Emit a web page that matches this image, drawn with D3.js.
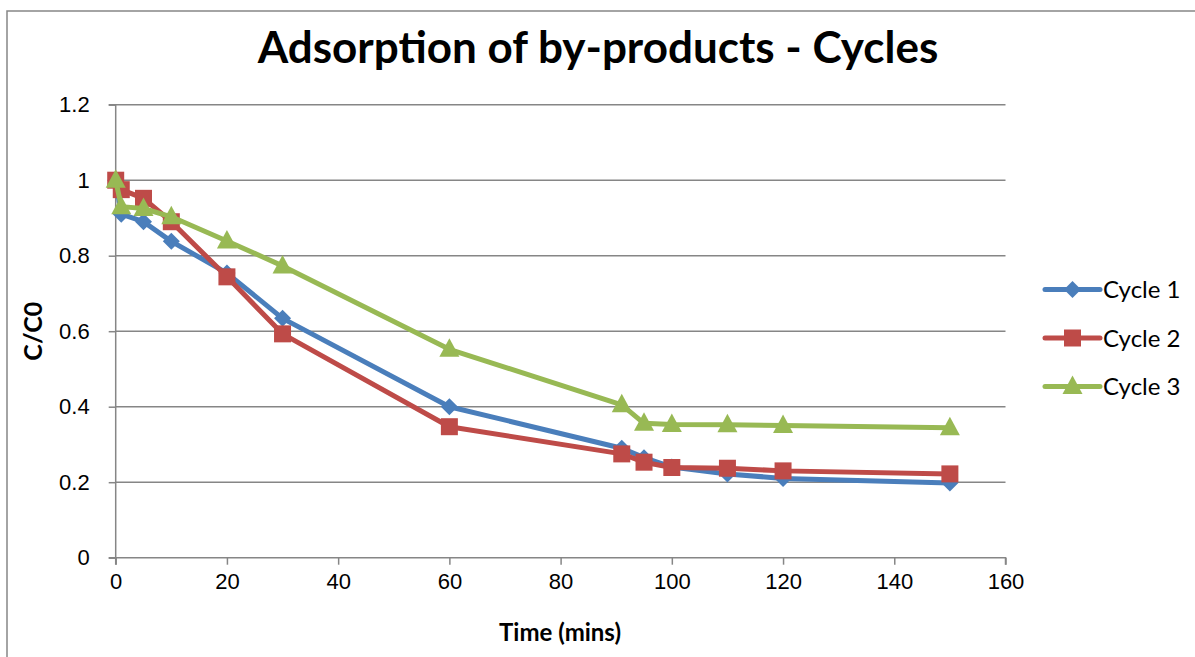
<!DOCTYPE html>
<html>
<head>
<meta charset="utf-8">
<script src="https://cdn.jsdelivr.net/npm/d3@7"></script>
<style>
  html, body { margin: 0; padding: 0; background: #fff; }
  svg { display: block; font-family: Lato, "Open Sans", sans-serif; }
</style>
</head>
<body>
<svg id="chart" width="1195" height="657"></svg>
<script>
// Sampling times (minutes) and C/C0 readings for each adsorption cycle
const times = [0, 1, 5, 10, 20, 30, 60, 91, 95, 100, 110, 120, 150];
const cycle1 = [1.0, 0.91, 0.89, 0.838, 0.754, 0.634, 0.40, 0.29, 0.265, 0.24, 0.222, 0.21, 0.198];
const cycle2 = [1.0, 0.975, 0.952, 0.89, 0.744, 0.593, 0.347, 0.275, 0.253, 0.239, 0.237, 0.230, 0.222];
const cycle3 = [1.0, 0.93, 0.925, 0.903, 0.839, 0.773, 0.552, 0.405, 0.356, 0.353, 0.352, 0.350, 0.344];
const seriesNames = ["Cycle 1", "Cycle 2", "Cycle 3"];
const seriesColors = ["#4A7EBB", "#BE4B48", "#98B954"];
const xTicks = [0, 20, 40, 60, 80, 100, 120, 140, 160];
const yTicks = [0, 0.2, 0.4, 0.6, 0.8, 1, 1.2];

// Marker shapes: square-ish diamond, square, wide triangle
const markerPath = [
  "M0,-8.5L8.5,0L0,8.5L-8.5,0Z",
  "M-8.5,-8.5H8.5V8.5H-8.5Z",
  "M0,-11L10,7.5H-10Z"
];

const series = [cycle1, cycle2, cycle3].map((vals, i) => ({
  name: seriesNames[i],
  color: seriesColors[i],
  marker: markerPath[i],
  points: times.map((t, j) => ({ t, v: vals[j] }))
}));

const svg = d3.select("#chart");
const plot = { left: 115.7, right: 1005.5, top: 104.7, bottom: 557.7 };

const x = d3.scaleLinear().domain([0, 160]).range([plot.left, plot.right]);
const y = d3.scaleLinear().domain([0, 1.2]).range([plot.bottom, plot.top]);

// Outer chart frame
svg.append("rect")
  .attr("x", 7).attr("y", 11)
  .attr("width", 1200).attr("height", 700)
  .attr("fill", "none").attr("stroke", "#868686").attr("stroke-width", 1.5);

// Horizontal gridlines
svg.append("g")
  .selectAll("line")
  .data(yTicks.filter(d => d > 0))
  .join("line")
  .attr("x1", plot.left).attr("x2", plot.right)
  .attr("y1", d => y(d)).attr("y2", d => y(d))
  .attr("stroke", "#868686").attr("stroke-width", 1.5);

// Axes
const xAxis = svg.append("g")
  .attr("transform", `translate(0,${plot.bottom})`)
  .call(d3.axisBottom(x).tickValues(xTicks).tickSize(7).tickPadding(9).tickFormat(d3.format("d")));
const yAxis = svg.append("g")
  .attr("transform", `translate(${plot.left},0)`)
  .call(d3.axisLeft(y).tickValues(yTicks).tickSize(7).tickPadding(19).tickFormat(d => String(+d.toFixed(1))));

[xAxis, yAxis].forEach(g => {
  g.select(".domain").attr("stroke", "#868686").attr("stroke-width", 1.5);
  g.selectAll(".tick line").attr("stroke", "#868686").attr("stroke-width", 1.5);
  g.selectAll(".tick text").attr("fill", "#000").style("font-size", "22px");
});
xAxis.selectAll(".domain").attr("d", `M${plot.left},7V0H${plot.right}V7`);
yAxis.selectAll(".domain").attr("d", `M-7,${plot.top}H0V${plot.bottom}H-7`);

// Series lines and markers
const line = d3.line().x(d => x(d.t)).y(d => y(d.v));

series.forEach(s => {
  svg.append("path")
    .datum(s.points)
    .attr("d", line)
    .attr("fill", "none")
    .attr("stroke", s.color)
    .attr("stroke-width", 5)
    .attr("stroke-linejoin", "round")
    .attr("stroke-linecap", "round");
  svg.append("g")
    .selectAll("path")
    .data(s.points)
    .join("path")
    .attr("transform", d => `translate(${x(d.t)},${y(d.v)})`)
    .attr("d", s.marker)
    .attr("fill", s.color);
});

// Title
svg.append("text")
  .attr("x", 598).attr("y", 63)
  .attr("text-anchor", "middle")
  .style("font-size", "44px").style("font-weight", "bold")
  .text("Adsorption of by-products - Cycles");

// Axis titles
svg.append("text")
  .attr("x", 560).attr("y", 641)
  .attr("text-anchor", "middle")
  .style("font-size", "24px").style("font-weight", "bold")
  .text("Time (mins)");
svg.append("text")
  .attr("transform", `translate(42,${(plot.top + plot.bottom) / 2}) rotate(-90)`)
  .attr("text-anchor", "middle")
  .style("font-size", "25px").style("font-weight", "bold")
  .text("C/C0");

// Legend
const legendY = [289.5, 338, 386.5];
const legend = svg.append("g");
series.forEach((s, i) => {
  const g = legend.append("g").attr("transform", `translate(0,${legendY[i]})`);
  g.append("line")
    .attr("x1", 1045).attr("x2", 1100)
    .attr("stroke", s.color).attr("stroke-width", 5).attr("stroke-linecap", "round");
  g.append("path")
    .attr("transform", "translate(1072.5,0)")
    .attr("d", s.marker)
    .attr("fill", s.color);
  g.append("text")
    .attr("x", 1103).attr("y", 8.5)
    .style("font-size", "24px")
    .text(s.name);
});
</script>
</body>
</html>
